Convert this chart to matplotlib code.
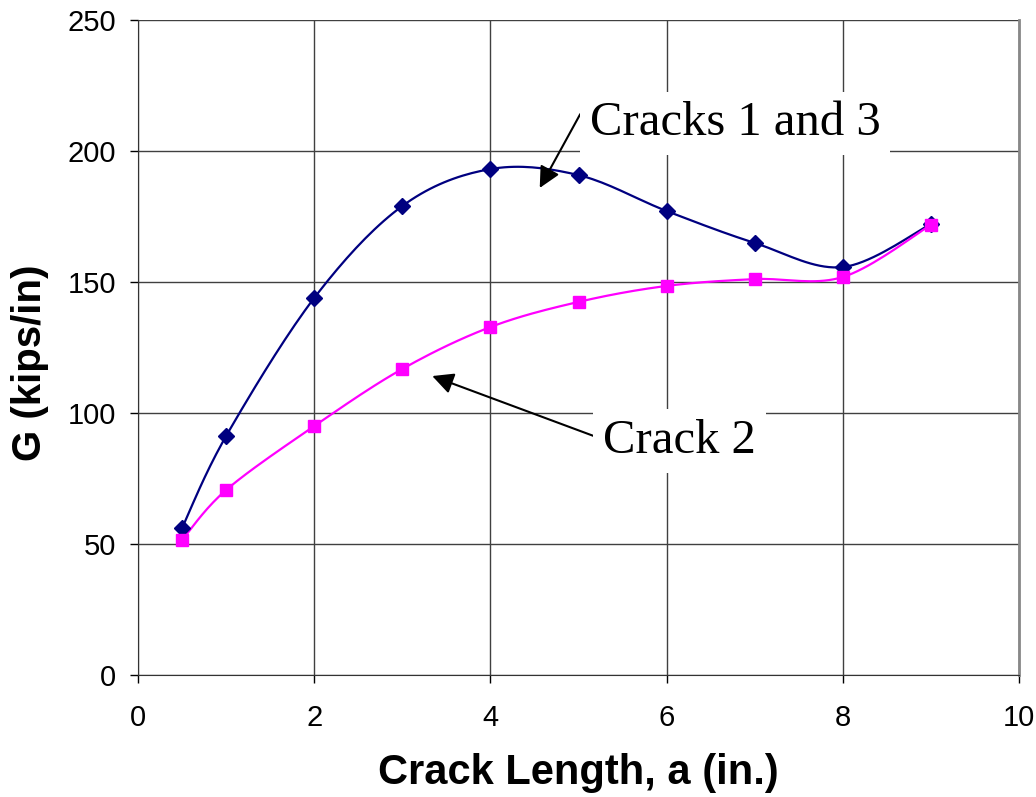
import numpy as np
import matplotlib
matplotlib.use("Agg")
import matplotlib.pyplot as plt
from matplotlib import font_manager

# data
crack_len = [0.5, 1, 2, 3, 4, 5, 6, 7, 8, 9]
g_cracks13 = [56.1, 91.2, 143.9, 179.0, 193.1, 190.8, 177.1, 164.9, 155.7, 172.1]
g_crack2 = [51.5, 70.6, 95.0, 116.8, 132.8, 142.4, 148.5, 151.1, 151.9, 171.8]

names = {f.name for f in font_manager.fontManager.ttflist}
narrow = "Liberation Sans Narrow" if "Liberation Sans Narrow" in names else "Liberation Sans"
plt.rcParams["font.family"] = [narrow, "DejaVu Sans"]


def smooth(x, y, n=20):
    # Excel style smoothed line (cubic bezier through the points)
    x = np.asarray(x, float)
    y = np.asarray(y, float)
    px = np.concatenate([[x[0]], x, [x[-1]]])
    py = np.concatenate([[y[0]], y, [y[-1]]])
    t = np.linspace(0, 1, n)[:, None]
    xs, ys = [], []
    for i in range(1, len(x)):
        p0 = np.array([px[i], py[i]])
        p3 = np.array([px[i + 1], py[i + 1]])
        c1 = p0 + (np.array([px[i + 1], py[i + 1]]) - np.array([px[i - 1], py[i - 1]])) / 6
        c2 = p3 - (np.array([px[i + 2], py[i + 2]]) - np.array([px[i], py[i]])) / 6
        b = (1 - t) ** 3 * p0 + 3 * (1 - t) ** 2 * t * c1 + 3 * (1 - t) * t ** 2 * c2 + t ** 3 * p3
        xs.append(b[:, 0])
        ys.append(b[:, 1])
    return np.concatenate(xs), np.concatenate(ys)


fig = plt.figure(figsize=(10.36, 7.97), dpi=100)
ax = fig.add_axes([0.1332, 0.1531, 0.8504, 0.8218])

sx, sy = smooth(crack_len, g_cracks13)
ax.plot(sx, sy, color="#000080", lw=1.6, zorder=3)
ax.plot(crack_len, g_cracks13, "D", color="#000080", ms=8.5, zorder=4)

sx, sy = smooth(crack_len, g_crack2)
ax.plot(sx, sy, color="#FF00FF", lw=1.6, zorder=3)
ax.plot(crack_len, g_crack2, "s", color="#FF00FF", ms=9, zorder=4)

ax.set_xlim(0, 10)
ax.set_ylim(0, 250)
ax.set_xticks(np.arange(0, 11, 2))
ax.set_yticks(np.arange(0, 251, 50))
ax.grid(True, color="#404040", lw=1)
ax.set_axisbelow(True)
ax.tick_params(direction="out", length=6, width=1, labelsize=21)
ax.tick_params(axis="x", pad=15)
ax.tick_params(axis="y", pad=10)
ax.spines["top"].set_visible(False)
ax.spines["right"].set_color("#888888")
ax.spines["right"].set_linewidth(2)
ax.spines["left"].set_color("#333333")
ax.spines["bottom"].set_color("#333333")

ax.set_xlabel("Crack Length, a (in.)", fontsize=30, fontweight="bold", va="center")
ax.xaxis.set_label_coords(0.5, -0.150)
ax.set_ylabel("G (kips/in)", fontsize=29, fontweight="bold", va="center")
ax.yaxis.set_label_coords(-0.123, 0.476)

ax.annotate("Cracks 1 and 3", xy=(4.56, 185.9), xytext=(5.13, 206), fontsize=35,
            family="Liberation Serif", va="baseline", zorder=5,
            bbox=dict(boxstyle="square,pad=0.2", fc="white", ec="none"),
            arrowprops=dict(arrowstyle="-|>", color="black", lw=1.5, mutation_scale=32,
                            shrinkA=0, shrinkB=0, relpos=(-0.03, 0.75)))
ax.annotate("Crack 2", xy=(3.34, 114.1), xytext=(5.28, 84.7), fontsize=35,
            family="Liberation Serif", va="baseline", zorder=5,
            bbox=dict(boxstyle="square,pad=0.2", fc="white", ec="none"),
            arrowprops=dict(arrowstyle="-|>", color="black", lw=1.5, mutation_scale=32,
                            shrinkA=0, shrinkB=0, relpos=(-0.05, 0.6)))

fig.savefig("out.png", dpi=100)
